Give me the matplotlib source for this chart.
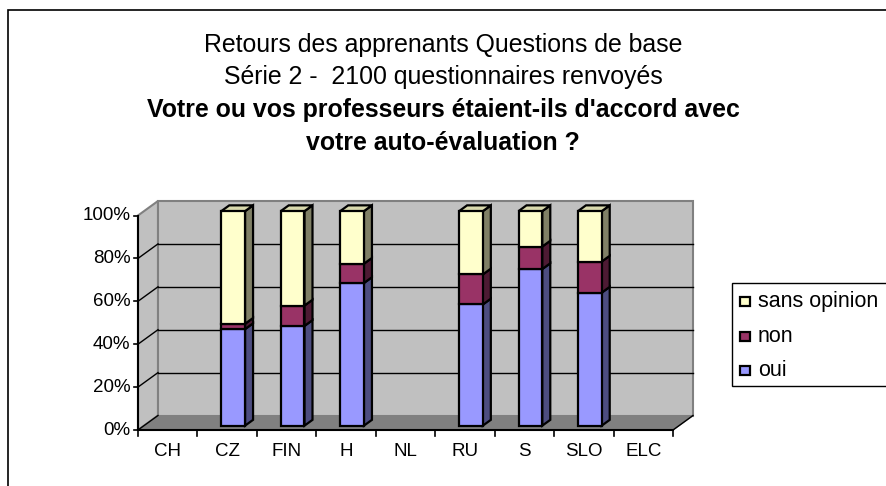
import matplotlib
matplotlib.use("Agg")
import matplotlib.pyplot as plt
from matplotlib.patches import Polygon, Rectangle

plt.rcParams['font.family'] = ['Liberation Sans', 'DejaVu Sans']

categories = ["CH", "CZ", "FIN", "H", "NL", "RU", "S", "SLO", "ELC"]
oui = [None, 45.0, 46.5, 66.5, None, 56.5, 73.0, 62.0, None]
non = [None, 2.5, 9.5, 9.0, None, 14.0, 10.5, 14.5, None]
sans_opinion = [None, 52.5, 44.0, 24.5, None, 29.5, 16.5, 23.5, None]
yticks = [0, 20, 40, 60, 80, 100]
ytick_labels = ["0%", "20%", "40%", "60%", "80%", "100%"]
series_names = ["oui", "non", "sans opinion"]
front_colors = ["#9999FF", "#993366", "#FFFFCC"]
side_colors = ["#4D4D80", "#4D1A33", "#808066"]
top_colors = ["#B3B3FF", "#B36680", "#D9D9AD"]
title_lines = ["Retours des apprenants Questions de base",
               "Série 2 -  2100 questionnaires renvoyés",
               "Votre ou vos professeurs étaient-ils d'accord avec",
               "votre auto-évaluation ?"]

W, H = 886, 486
fig = plt.figure(figsize=(W / 100, H / 100), dpi=100)
fig.patch.set_facecolor("white")


def fx(px):
    return px / W


def fy(py):
    return 1 - py / H


# axes front plane: x 0..9 -> px 138..673 ; y 0..100 -> px(from top) 430..215.5
ax = fig.add_axes([138 / W, 56 / H, 535 / W, 214.5 / H])
n = len(categories)
ax.set_xlim(0, n)
ax.set_ylim(0, 100)
ax.axis("off")

ddx = 20 / (535 / n)        # depth offset in category units
ddy = 14.5 / 2.145          # depth offset in percent units

wall_edge = "#808080"
# floor
ax.add_patch(Polygon([(0, 0), (n, 0), (n + ddx, ddy), (ddx, ddy)], closed=True,
                     facecolor="#808080", edgecolor=wall_edge, lw=1, clip_on=False, zorder=1))
# left wall
ax.add_patch(Polygon([(0, 0), (ddx, ddy), (ddx, 100 + ddy), (0, 100)], closed=True,
                     facecolor="#C0C0C0", edgecolor=wall_edge, lw=1.5, clip_on=False, zorder=1))
# back wall
ax.add_patch(Polygon([(ddx, ddy), (n + ddx, ddy), (n + ddx, 100 + ddy), (ddx, 100 + ddy)], closed=True,
                     facecolor="#C0C0C0", edgecolor=wall_edge, lw=1.5, clip_on=False, zorder=1))
# gridlines
for v in yticks[1:-1]:
    ax.plot([ddx, n + ddx], [v + ddy, v + ddy], color="black", lw=1, zorder=2, clip_on=False)
    ax.plot([0, ddx], [v, v + ddy], color="black", lw=1, zorder=2, clip_on=False)
ax.plot([0, ddx], [0, ddy], color="black", lw=1, zorder=2, clip_on=False)

# axes lines
ax.plot([0, 0], [0, 100], color="black", lw=1.5, zorder=5, clip_on=False)
ax.plot([0, n], [0, 0], color="black", lw=1.5, zorder=5, clip_on=False)
ax.plot([n, n + ddx], [0, ddy], color="black", lw=1, zorder=5, clip_on=False)
for v, lab in zip(yticks, ytick_labels):
    ax.plot([-0.07, 0], [v, v], color="black", lw=1.2, clip_on=False, zorder=5)
    ax.text(-0.13, v, lab, ha="right", va="center", fontsize=13.5, zorder=5)
for k in range(n + 1):
    ax.plot([k, k], [0, -2.6], color="black", lw=1.2, clip_on=False, zorder=5)
for k, c in enumerate(categories):
    ax.text(k + 0.5, -6, c, ha="center", va="top", fontsize=13.5)

# bars
d0, d1 = 0.3, 0.7
bw = 0.40
dd = d1 - d0
series = [oui, non, sans_opinion]
for i in range(n):
    if oui[i] is None:
        continue
    xl = i + 0.5 - bw / 2 + d0 * ddx
    xr = xl + bw
    base = 0.0
    oy = d0 * ddy
    for s, vals in enumerate(series):
        v = vals[i]
        yb, yt = base + oy, base + v + oy
        ax.add_patch(Rectangle((xl, yb), bw, v, facecolor=front_colors[s],
                               edgecolor="black", lw=1.6, zorder=10, clip_on=False))
        ax.add_patch(Polygon([(xr, yb), (xr + dd * ddx, yb + dd * ddy),
                              (xr + dd * ddx, yt + dd * ddy), (xr, yt)], closed=True,
                             facecolor=side_colors[s], edgecolor="black", lw=1.6,
                             zorder=9, clip_on=False))
        if s == len(series) - 1:
            ax.add_patch(Polygon([(xl, yt), (xr, yt), (xr + dd * ddx, yt + dd * ddy),
                                  (xl + dd * ddx, yt + dd * ddy)], closed=True,
                                 facecolor=top_colors[s], edgecolor="black", lw=1.6,
                                 zorder=9, clip_on=False))
        base += v

# titles
ys = [45, 77, 110, 143]
for j, (t, y) in enumerate(zip(title_lines, ys)):
    fig.text(fx(443), fy(y), t, ha="center", va="center", fontsize=17.9,
             fontweight="bold" if j >= 2 else "normal")

# legend (drawn manually, box runs past the right edge as in the reference)
fig.add_artist(Rectangle((fx(732), fy(386)), fx(900) - fx(732), fy(283) - fy(386),
                         transform=fig.transFigure, facecolor="white", edgecolor="black", lw=1))
leg_y = [301.5, 336.5, 370]
for (s, y) in zip([2, 1, 0], leg_y):
    fig.add_artist(Rectangle((fx(740), fy(y + 4.5)), fx(749.5) - fx(740), fy(y - 4.5) - fy(y + 4.5),
                             transform=fig.transFigure, facecolor=front_colors[s],
                             edgecolor="black", lw=1.6))
    fig.text(fx(758), fy(y), series_names[s], ha="left", va="center", fontsize=15.5)

# outer border (left and top visible)
fig.add_artist(Rectangle((fx(8), -0.2), 1.5, fy(10) + 0.2, transform=fig.transFigure,
                         fill=False, edgecolor="black", lw=1.2))

fig.savefig("out.png", dpi=100)
